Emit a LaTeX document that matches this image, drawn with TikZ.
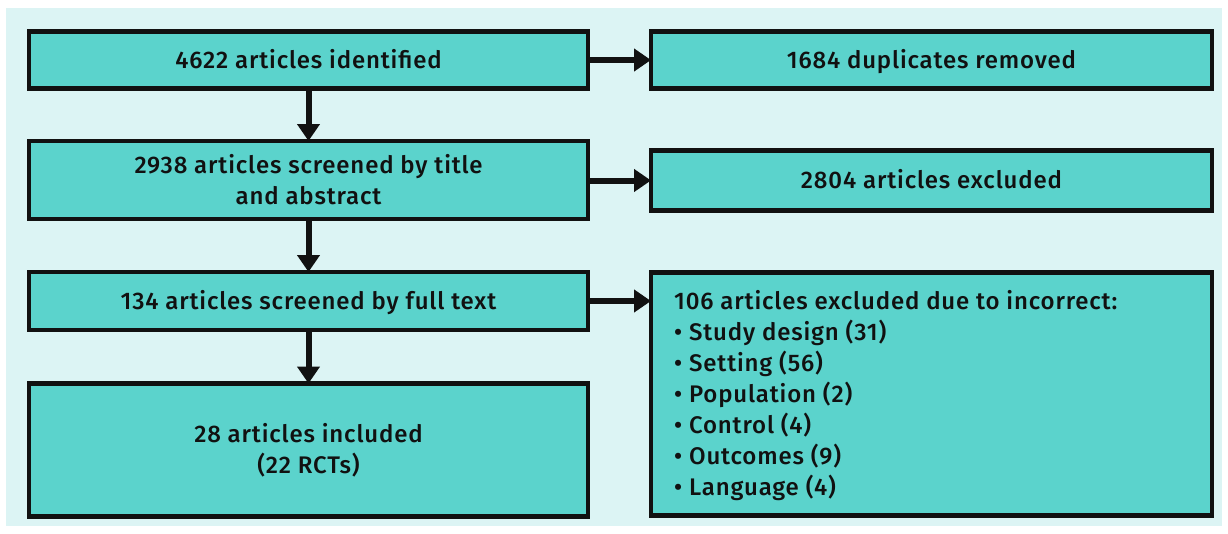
\documentclass[tikz,border=0pt]{standalone}
\usepackage{fontspec}
\setmainfont{Fira Sans}[UprightFont={* Medium},LetterSpace=3.5]
\usetikzlibrary{arrows.meta}
\definecolor{bgc}{HTML}{DCF4F4}
\definecolor{boxc}{HTML}{5BD3CC}
\definecolor{inkc}{HTML}{111111}
\begin{document}
\begin{tikzpicture}[x=1pt,y=-1pt,
  box/.style={draw=inkc,fill=boxc,line width=4.5pt,rectangle,inner sep=0pt,outer sep=0pt,align=center,font=\fontsize{24}{31}\selectfont,text=inkc},
  one/.style={text height=19pt,text depth=3pt},
  arr/.style={draw=inkc,line width=6pt,-{Triangle[width=22pt,length=17pt]}}]
\useasboundingbox (0,0) rectangle (1228,533);
\fill[white] (0,0) rectangle (1228,533);
\fill[bgc] (6,8) rectangle (1222,526);
\node[box,one,minimum width=559pt,minimum height=57pt] (b1) at (308.5,60) {4622 articles identified};
\node[box,one,minimum width=561pt,minimum height=57pt] (b2) at (931.5,60) {1684 duplicates removed};
\node[box,minimum width=559pt,minimum height=78pt] (b3) at (308.5,180) {2938 articles screened by title\\and abstract};
\node[box,one,minimum width=561pt,minimum height=60pt] (b4) at (931.5,180.5) {2804 articles excluded};
\node[box,one,minimum width=559pt,minimum height=58pt] (b5) at (308.5,301) {134 articles screened by full text};
\node[box,minimum width=561pt,minimum height=243pt] (b6) at (931.5,394) {};
\node[box,minimum width=559pt,minimum height=133pt] (b7) at (308.5,450) {28 articles included\\(22 RCTs)};
\node[anchor=north west,inner sep=0pt,align=left,font=\fontsize{24}{31}\selectfont,text=inkc] (t6) at (674,290)
 {106 articles excluded due to incorrect:\\
  \textbullet\ Study design (31)\\
  \textbullet\ Setting (56)\\
  \textbullet\ Population (2)\\
  \textbullet\ Control (4)\\
  \textbullet\ Outcomes (9)\\
  \textbullet\ Language (4)};
\draw[arr] (b1.south) -- (b3.north);
\draw[arr] (b3.south) -- (b5.north);
\draw[arr] (b5.south) -- (b7.north);
\draw[arr] (b1.east) -- (b2.west);
\draw[arr] (b3.east |- b4.west) -- (b4.west);
\draw[arr] (b5.east) -- (b5.east -| b6.west);
\end{tikzpicture}
\end{document}
